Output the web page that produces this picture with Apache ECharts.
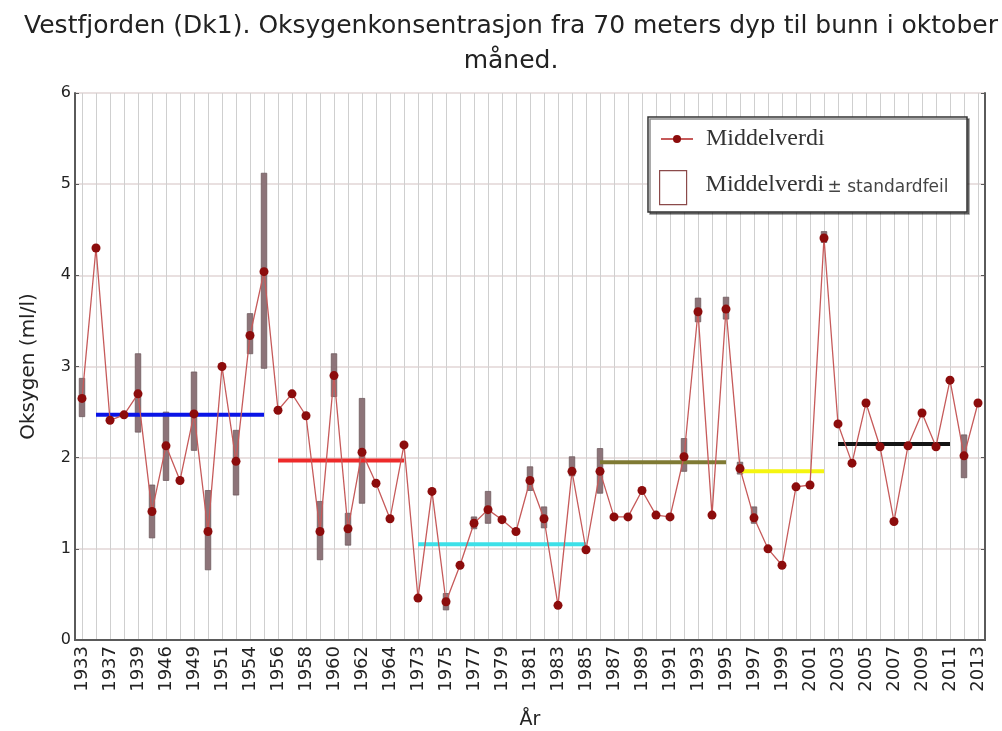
<!DOCTYPE html>
<html>
<head>
<meta charset="utf-8">
<script src="https://cdn.jsdelivr.net/npm/echarts@6/dist/echarts.min.js"></script>
<style>
  html, body { margin: 0; padding: 0; background: #fff; }
  #chart { width: 1002px; height: 731px; }
</style>
</head>
<body>
<div id="chart"></div>
<script>
// år (kategorier)
const years = ['1933', '1935', '1937', '1938', '1939', '1940', '1946', '1947', '1949', '1950',
  '1951', '1952', '1954', '1955', '1956', '1957', '1958', '1959', '1960', '1961',
  '1962', '1963', '1964', '1965', '1973', '1974', '1975', '1976', '1977', '1978',
  '1979', '1980', '1981', '1982', '1983', '1984', '1985', '1986', '1987', '1988',
  '1989', '1990', '1991', '1992', '1993', '1994', '1995', '1996', '1997', '1998',
  '1999', '2000', '2001', '2002', '2003', '2004', '2005', '2006', '2007', '2008',
  '2009', '2010', '2011', '2012', '2013'];

// middelverdi per år (ml/l)
const meanValues = [2.65, 4.30, 2.41, 2.47, 2.70, 1.41, 2.13, 1.75, 2.48, 1.19,
  3.00, 1.96, 3.34, 4.04, 2.52, 2.70, 2.46, 1.19, 2.90, 1.22,
  2.06, 1.72, 1.33, 2.14, 0.46, 1.63, 0.42, 0.82, 1.28, 1.43,
  1.32, 1.19, 1.75, 1.33, 0.38, 1.85, 0.99, 1.85, 1.35, 1.35,
  1.64, 1.37, 1.35, 2.01, 3.60, 1.37, 3.63, 1.88, 1.34, 1.00,
  0.82, 1.68, 1.70, 4.41, 2.37, 1.94, 2.60, 2.12, 1.30, 2.13,
  2.49, 2.12, 2.85, 2.02, 2.60];

// middelverdi +- standardfeil
const errYears = ['1933', '1939', '1940', '1946', '1949', '1950', '1952', '1954', '1955', '1959',
  '1960', '1961', '1962', '1975', '1977', '1978', '1981', '1982', '1984', '1986',
  '1992', '1993', '1995', '1996', '1997', '2002', '2012'];
const errLow = [2.45, 2.28, 1.12, 1.75, 2.08, 0.77, 1.59, 3.14, 2.98, 0.88,
  2.67, 1.04, 1.50, 0.33, 1.22, 1.28, 1.64, 1.23, 1.80, 1.61,
  1.85, 3.49, 3.52, 1.82, 1.28, 4.36, 1.78];
const errHigh = [2.87, 3.14, 1.70, 2.50, 2.94, 1.64, 2.30, 3.58, 5.12, 1.52,
  3.14, 1.39, 2.65, 0.51, 1.35, 1.63, 1.90, 1.46, 2.01, 2.10,
  2.21, 3.75, 3.76, 1.95, 1.46, 4.48, 2.25];

// periodemiddel
const periodStart = ['1935', '1956', '1973', '1986', '1996', '2003'];
const periodEnd = ['1955', '1965', '1985', '1995', '2002', '2011'];
const periodMean = [2.47, 1.97, 1.05, 1.95, 1.85, 2.15];
const periodColors = ['#0a14e6', '#ee2a2a', '#3de0e8', '#7f7a34', '#f5f510', '#141414'];

const yTicks = [0, 1, 2, 3, 4, 5, 6];

const chart = echarts.init(document.getElementById('chart'));

const axisColor = '#5a5a5a';
const sansFont = '"DejaVu Sans", Arial, sans-serif';
const serifFont = '"Liberation Serif", "DejaVu Serif", serif';

const periodSeries = periodMean.map((m, i) => ({
  type: 'line',
  name: 'periode' + i,
  data: [[periodStart[i], m], [periodEnd[i], m]],
  symbol: 'none',
  lineStyle: { color: periodColors[i], width: 4 },
  z: 3,
  silent: true
}));

const option = {
  animation: false,
  title: {
    text: 'Vestfjorden (Dk1). Oksygenkonsentrasjon fra 70 meters dyp til bunn i oktober\nmåned.',
    left: 506,
    top: 4,
    textAlign: 'center',
    textStyle: {
      fontFamily: sansFont,
      fontSize: 25,
      fontWeight: 'normal',
      color: '#222',
      lineHeight: 35
    }
  },
  // ramme rundt tegnforklaringen
  graphic: [{
    type: 'rect',
    z: 5,
    shape: { x: 648, y: 117, width: 319, height: 95 },
    style: {
      fill: '#fff', stroke: '#333', lineWidth: 1.5,
      shadowColor: 'rgba(0,0,0,0.45)', shadowOffsetX: 2, shadowOffsetY: 2, shadowBlur: 0
    }
  }],
  legend: [
    {
      left: 660,
      top: 127,
      padding: 0,
      z: 6,
      itemWidth: 32,
      itemHeight: 10,
      data: ['Middelverdi'],
      textStyle: { fontFamily: serifFont, fontSize: 24, color: '#333', padding: [0, 0, 0, 8] }
    },
    {
      left: 659,
      top: 170,
      padding: 0,
      z: 6,
      itemWidth: 27,
      itemHeight: 34,
      data: [{ name: 'Middelverdi ± standardfeil', icon: 'rect',
        itemStyle: { color: '#fff', borderColor: '#8b4a4a', borderWidth: 1.2 } }],
      formatter: function () {
        return '{a|Middelverdi} {b|± standardfeil}';
      },
      textStyle: {
        padding: [0, 0, 6, 14],
        rich: {
          a: { fontFamily: serifFont, fontSize: 24, color: '#333' },
          b: { fontFamily: sansFont, fontSize: 17, color: '#444', padding: [6, 0, 0, 0] }
        }
      }
    }
  ],
  grid: { left: 75, right: 17, top: 93, bottom: 91, outerBoundsMode: 'none', containLabel: false },
  xAxis: [
    {
      type: 'category',
      data: years,
      boundaryGap: true,
      position: 'bottom',
      name: 'År',
      nameLocation: 'middle',
      nameGap: 71,
      nameTextStyle: { fontFamily: sansFont, fontSize: 19, color: '#222' },
      axisLine: { lineStyle: { color: axisColor, width: 2 } },
      axisTick: { inside: true, interval: 1, alignWithLabel: true, length: 5, lineStyle: { color: axisColor } },
      axisLabel: { interval: 1, rotate: 90, fontFamily: sansFont, fontSize: 18, color: '#222', margin: 6 },
      splitLine: { show: true, interval: 0, alignWithLabel: true, lineStyle: { color: '#cfcfcf', width: 1 } }
    },
    {
      type: 'category',
      data: years,
      boundaryGap: true,
      position: 'top',
      axisLine: { lineStyle: { color: axisColor, width: 2 } },
      axisTick: { inside: true, interval: 1, alignWithLabel: true, length: 5, lineStyle: { color: axisColor } },
      axisLabel: { show: false },
      splitLine: { show: false }
    }
  ],
  yAxis: [
    {
      type: 'value',
      min: yTicks[0],
      max: yTicks[yTicks.length - 1],
      interval: 1,
      name: 'Oksygen (ml/l)',
      nameLocation: 'middle',
      nameGap: 36,
      nameTextStyle: { fontFamily: sansFont, fontSize: 20, color: '#222' },
      axisLine: { show: true, lineStyle: { color: axisColor, width: 2 } },
      axisTick: { show: true, inside: true, length: 4, lineStyle: { color: axisColor } },
      axisLabel: { fontFamily: sansFont, fontSize: 16, color: '#222', margin: 4 },
      splitLine: { show: true, lineStyle: { color: '#e2d6d6', width: 1.5 } }
    },
    {
      type: 'value',
      min: yTicks[0],
      max: yTicks[yTicks.length - 1],
      interval: 1,
      position: 'right',
      axisLine: { show: true, lineStyle: { color: axisColor, width: 2 } },
      axisTick: { show: true, inside: true, length: 4, lineStyle: { color: axisColor } },
      axisLabel: { show: false },
      splitLine: { show: false }
    }
  ],
  series: [
    {
      type: 'custom',
      name: 'Middelverdi ± standardfeil',
      data: errYears.map((y, i) => [y, errLow[i], errHigh[i]]),
      encode: { x: 0, y: [1, 2] },
      z: 2,
      renderItem: function (params, api) {
        const lo = api.coord([api.value(0), api.value(1)]);
        const hi = api.coord([api.value(0), api.value(2)]);
        return {
          type: 'rect',
          shape: { x: lo[0] - 2.75, y: hi[1], width: 5.5, height: lo[1] - hi[1] },
          style: { fill: '#8d7479', stroke: '#6e5a5e', lineWidth: 0.8 }
        };
      }
    },
    ...periodSeries,
    {
      type: 'line',
      name: 'Middelverdi',
      data: meanValues,
      symbol: 'circle',
      symbolSize: 9,
      lineStyle: { color: '#c65a5a', width: 1.3 },
      itemStyle: { color: '#8c0c0c' },
      z: 4
    }
  ]
};

chart.setOption(option);
</script>
</body>
</html>
